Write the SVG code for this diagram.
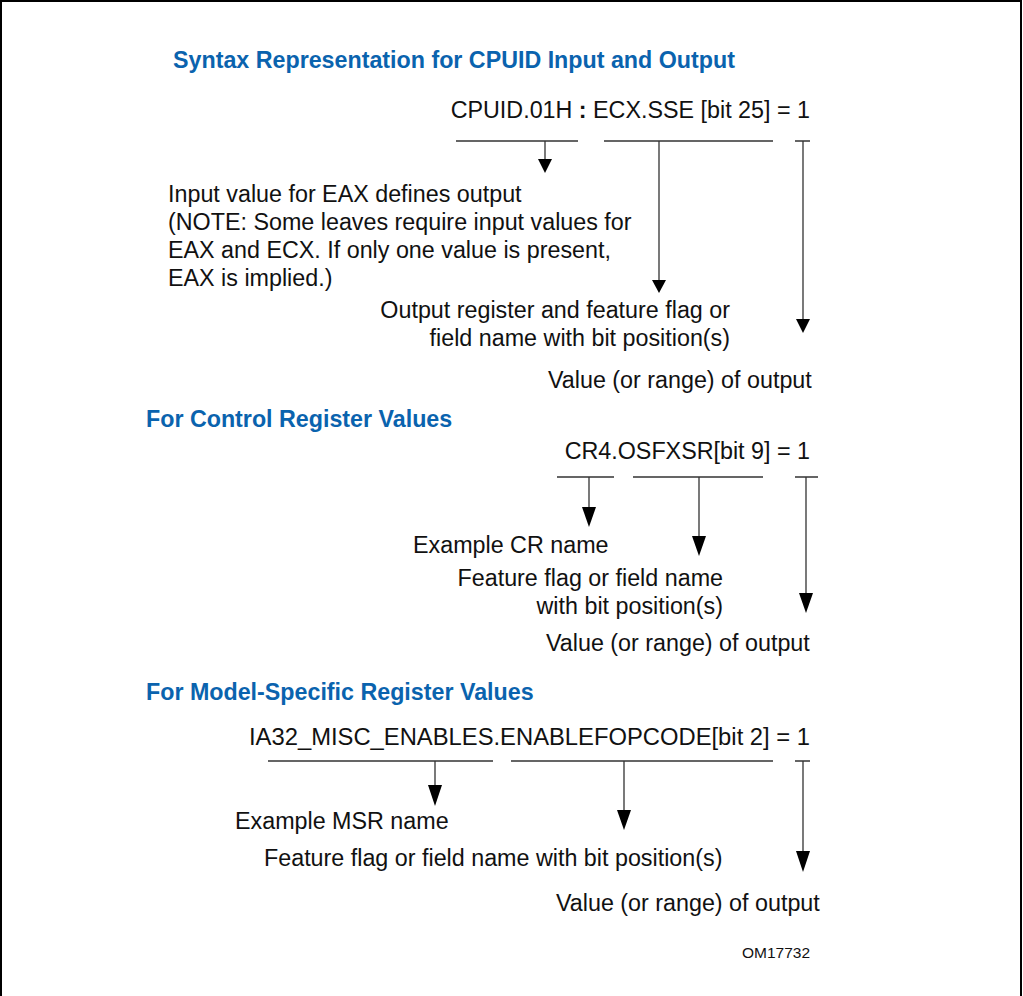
<svg xmlns="http://www.w3.org/2000/svg" width="1023" height="996" viewBox="0 0 1023 996">
<style>
.h{font-family:"Liberation Sans",Arial,sans-serif;font-weight:bold;font-size:23.25px;fill:#0a63ae}
.t{font-family:"Liberation Sans",Arial,sans-serif;font-size:23.3px;fill:#111}
.s{font-family:"Liberation Sans",Arial,sans-serif;font-size:15.5px;fill:#111}
.ln{stroke:#333;stroke-width:1.3;fill:none}
.ah{fill:#000}
</style>
<rect x="1" y="1" width="1020" height="1010" fill="#fff" stroke="#000" stroke-width="2"/>
<g id="title1"><text class="h" x="173" y="68">Syntax Representation for CPUID Input and Output</text></g>
<g id="expr1"><text class="t" x="810" y="118" text-anchor="end">CPUID.01H <tspan font-weight="bold">:</tspan> ECX.SSE [bit 25] = 1</text></g>
<g id="input1"><text class="t" x="168" y="202">Input value for EAX defines output</text><text class="t" x="168" y="230">(NOTE: Some leaves require input values for</text><text class="t" x="168" y="258">EAX and ECX. If only one value is present,</text><text class="t" x="168" y="286">EAX is implied.)</text></g>
<g id="output1"><text class="t" x="730" y="318" text-anchor="end">Output register and feature flag or</text><text class="t" x="730" y="346" text-anchor="end">field name with bit position(s)</text></g>
<g id="value1"><text class="t" x="548" y="388">Value (or range) of output</text></g>

<g id="title2"><text class="h" x="146" y="427">For Control Register Values</text></g>
<g id="expr2"><text class="t" x="810" y="459" text-anchor="end">CR4.OSFXSR[bit 9] = 1</text></g>
<g id="crname"><text class="t" x="413" y="553">Example CR name</text></g>
<g id="feature2"><text class="t" x="723" y="586" text-anchor="end">Feature flag or field name</text><text class="t" x="723" y="614" text-anchor="end">with bit position(s)</text></g>
<g id="value2"><text class="t" x="546" y="651">Value (or range) of output</text></g>

<g id="title3"><text class="h" x="146" y="700">For Model-Specific Register Values</text></g>
<g id="expr3"><text class="t" x="249" y="745" textLength="561" lengthAdjust="spacingAndGlyphs">IA32_MISC_ENABLES.ENABLEFOPCODE[bit 2] = 1</text></g>
<g id="msrname"><text class="t" x="235" y="829">Example MSR name</text></g>
<g id="feature3"><text class="t" x="264" y="866">Feature flag or field name with bit position(s)</text></g>
<g id="value3"><text class="t" x="556" y="911">Value (or range) of output</text></g>
<g id="figid"><text class="s" x="742" y="958">OM17732</text></g>

<g id="connectors">
<path class="ln" d="M456 141H578M604 141H773M795 141H810"/>
<path class="ln" d="M545 141V160M659 141V281M803 141V320"/>
<polygon class="ah" points="538,159 552,159 545,173"/>
<polygon class="ah" points="652,280 666,280 659,293"/>
<polygon class="ah" points="796,319 810,319 803,333"/>

<path class="ln" d="M557 477H614M633 477H763M795 477H818"/>
<path class="ln" d="M589 477V508M699 477V537M806 477V594"/>
<polygon class="ah" points="582,507 596,507 589,527"/>
<polygon class="ah" points="692,536 706,536 699,556"/>
<polygon class="ah" points="799,593 813,593 806,613"/>

<path class="ln" d="M268 761H493M511 761H773M795 761H810"/>
<path class="ln" d="M435 761V786M624 761V811M803 761V852"/>
<polygon class="ah" points="428,785 442,785 435,806"/>
<polygon class="ah" points="617,810 631,810 624,830"/>
<polygon class="ah" points="796,851 810,851 803,872"/>
</g>
</svg>
